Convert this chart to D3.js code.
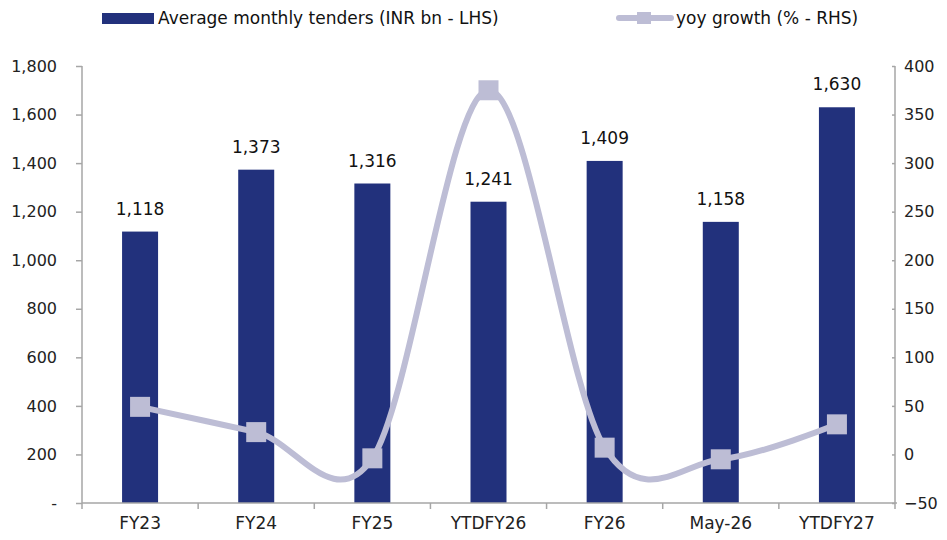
<!DOCTYPE html>
<meta charset="utf-8">
<style>
body { margin: 0; background: #fff; }
svg { font-family: "DejaVu Sans", Verdana, sans-serif; }
.axis path, .axis line { stroke: #a6a6a6; stroke-width: 1.5px; }
.axis text { fill: #222; font-size: 16px; font-family: "DejaVu Sans", sans-serif; }
</style>
<body>
<script src="https://d3js.org/d3.v7.min.js"></script>
<script>

// chart data
var categories = ["FY23", "FY24", "FY25", "YTDFY26", "FY26", "May-26", "YTDFY27"];
var tenders = [1118, 1373, 1316, 1241, 1409, 1158, 1630];
var growth = [49, 23, -4, 375, 7, -5, 31];
var leftTicks = [0, 200, 400, 600, 800, 1000, 1200, 1400, 1600, 1800];
var rightTicks = [-50, 0, 50, 100, 150, 200, 250, 300, 350, 400];

var barColor = "#22317c",
    lineColor = "#bdbdd5";

var margin = {top: 66, right: 52, bottom: 37, left: 82},
    width = 947 - margin.left - margin.right,
    height = 540 - margin.top - margin.bottom;

var svg = d3.select("body").append("svg")
    .attr("width", 947)
    .attr("height", 540);

var g = svg.append("g")
    .attr("transform", "translate(" + margin.left + "," + margin.top + ")");

var x = d3.scaleBand().domain(categories).range([0, width]);
var yL = d3.scaleLinear().domain([0, 1800]).range([height, 0]);
var yR = d3.scaleLinear().domain([-50, 400]).range([height, 0]);

var barW = 36;

// bars
g.selectAll(".bar")
    .data(tenders)
  .enter().append("rect")
    .attr("class", "bar")
    .attr("x", function(d, i) { return x(categories[i]) + x.bandwidth() / 2 - barW / 2; })
    .attr("y", function(d) { return yL(d); })
    .attr("width", barW)
    .attr("height", function(d) { return height - yL(d); })
    .style("fill", barColor);

// bar labels
g.selectAll(".blabel")
    .data(tenders)
  .enter().append("text")
    .attr("x", function(d, i) { return x(categories[i]) + x.bandwidth() / 2; })
    .attr("y", function(d) { return yL(d) - 17; })
    .attr("text-anchor", "middle")
    .style("font-size", "17px")
    .style("fill", "#111")
    .text(function(d) { return d3.format(",")(d); });

// axes
var leftAxis = g.append("g").attr("class", "axis")
    .call(d3.axisLeft(yL).tickValues(leftTicks).tickSize(6).tickPadding(19)
      .tickFormat(function(d) { return d === 0 ? "-" : d3.format(",")(d); }));
leftAxis.select(".domain").attr("d", "M0,0V" + height);
leftAxis.selectAll("text").style("text-anchor", "end");

var rightAxis = g.append("g").attr("class", "axis")
    .attr("transform", "translate(" + width + ",0)")
    .call(d3.axisRight(yR).tickValues(rightTicks).tickSize(0).tickPadding(9));
rightAxis.select(".domain").attr("d", "M0,0V" + height);
rightAxis.selectAll(".tick line").attr("x1", -3).attr("x2", 0);
rightAxis.selectAll("text").style("text-anchor", "start");

var xAxis = g.append("g").attr("class", "axis")
    .attr("transform", "translate(0," + height + ")")
    .call(d3.axisBottom(x).tickSize(0).tickPadding(14));
xAxis.select(".domain").attr("d", "M0,0H" + (width + 2));
xAxis.selectAll(".tick text").style("font-size", "17px");
// category separators
xAxis.selectAll(".sep")
    .data(d3.range(categories.length + 1))
  .enter().append("line")
    .attr("x1", function(i) { return i * x.bandwidth(); })
    .attr("x2", function(i) { return i * x.bandwidth(); })
    .attr("y1", 0).attr("y2", 6)
    .style("stroke", "#a6a6a6").style("stroke-width", 1.5);

// growth line
var line = d3.line()
    .x(function(d, i) { return x(categories[i]) + x.bandwidth() / 2; })
    .y(function(d) { return yR(d); })
    .curve(d3.curveCardinal.tension(0));

g.append("path")
    .datum(growth)
    .attr("d", line)
    .style("fill", "none")
    .style("stroke", lineColor)
    .style("stroke-width", 6)
    .style("stroke-linecap", "round");

var mk = 20;
g.selectAll(".marker")
    .data(growth)
  .enter().append("rect")
    .attr("x", function(d, i) { return x(categories[i]) + x.bandwidth() / 2 - mk / 2; })
    .attr("y", function(d) { return yR(d) - mk / 2; })
    .attr("width", mk)
    .attr("height", mk)
    .style("fill", lineColor);

// legend
var legend = svg.append("g").attr("class", "legend");

legend.append("rect")
    .attr("x", 102).attr("y", 13)
    .attr("width", 52).attr("height", 11)
    .style("fill", barColor);

legend.append("text")
    .attr("x", 158).attr("y", 24)
    .style("font-size", "17px")
    .style("fill", "#111")
    .text("Average monthly tenders (INR bn - LHS)");

legend.append("line")
    .attr("x1", 619).attr("x2", 671)
    .attr("y1", 18).attr("y2", 18)
    .style("stroke", lineColor).style("stroke-width", 6)
    .style("stroke-linecap", "round");

legend.append("rect")
    .attr("x", 637).attr("y", 12)
    .attr("width", 14).attr("height", 12)
    .style("fill", lineColor);

legend.append("text")
    .attr("x", 676).attr("y", 24)
    .style("font-size", "17px")
    .style("fill", "#111")
    .text("yoy growth (% - RHS)");

</script>
</body>
